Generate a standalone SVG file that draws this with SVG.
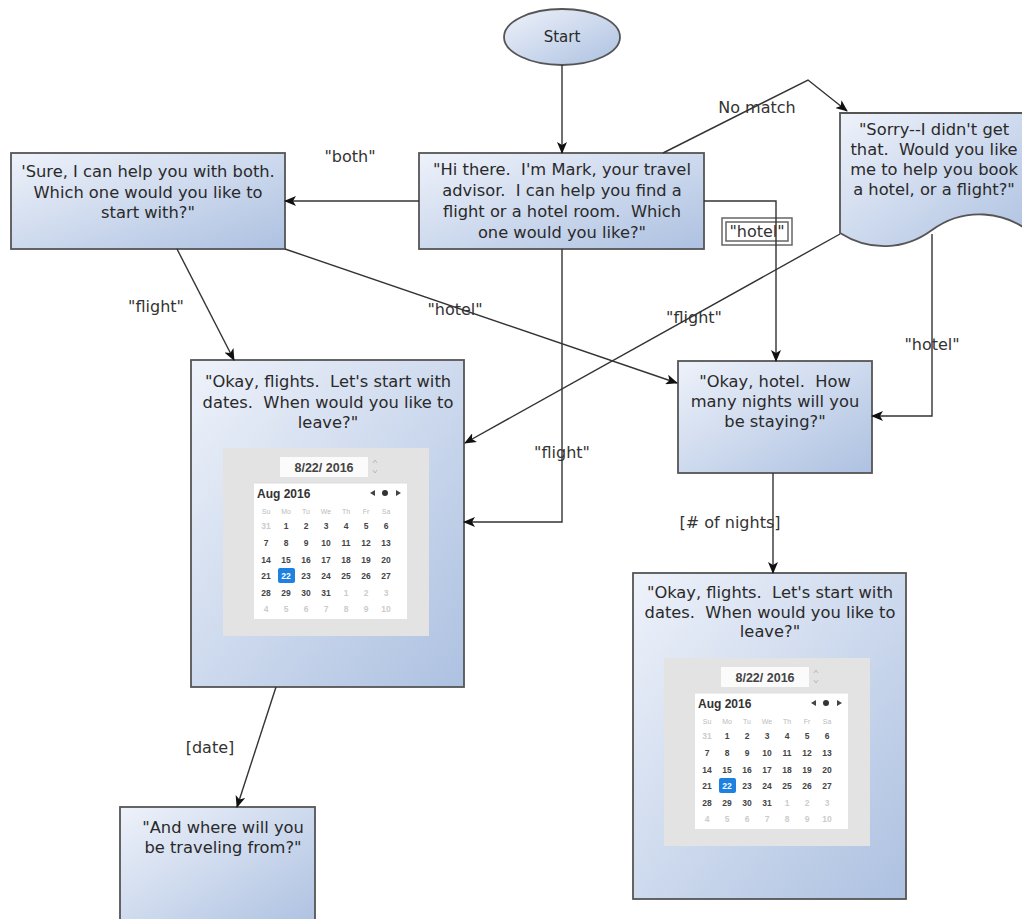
<svg xmlns="http://www.w3.org/2000/svg" xmlns:xlink="http://www.w3.org/1999/xlink" width="1022" height="919" viewBox="0 0 1022 919">
<style>
.box{stroke:#555;stroke-width:1.8;fill:url(#g)}
.t{font-family:"DejaVu Sans",sans-serif;font-size:16.3px;fill:#2a2a2a;text-anchor:middle;white-space:pre}
.lb{font-family:"DejaVu Sans",sans-serif;font-size:16px;fill:#333;text-anchor:middle}
.c{fill:none;stroke:#333;stroke-width:1.4}
.cn{font-family:"Liberation Sans",sans-serif;font-size:8.5px;font-weight:bold;fill:#444;text-anchor:middle}
.cl{fill:#ccc}
.ch{font-family:"Liberation Sans",sans-serif;font-size:7px;fill:#bbb;text-anchor:middle}
</style>
<defs>
<linearGradient id="g" x1="0" y1="0" x2="1" y2="1">
<stop offset="0" stop-color="#eef2fa"/>
<stop offset="1" stop-color="#adc1e1"/>
</linearGradient>
<marker id="a" markerWidth="12" markerHeight="10" refX="11" refY="5" orient="auto" markerUnits="userSpaceOnUse">
<path d="M0,0 L12,5 L0,10 L3,5 Z" fill="#111"/>
</marker>
<g id="cal">
<rect x="0" y="0" width="206" height="188" fill="#e3e3e3"/>
<rect x="57" y="9" width="88" height="20" fill="#fbfbfb"/>
<text x="101" y="24" font-family="Liberation Sans,sans-serif" font-size="12.5" font-weight="bold" fill="#444" text-anchor="middle">8/22/ 2016</text>
<path d="M150,15 l2,-3 l2,3 M150,22 l2,3 l2,-3" fill="none" stroke="#bbb" stroke-width="1"/>
<rect x="31" y="35" width="153" height="136" fill="#fff"/>
<line x1="31" y1="35" x2="184" y2="35" stroke="#ddd"/>
<text x="34" y="50" font-family="Liberation Sans,sans-serif" font-size="12" font-weight="bold" fill="#333">Aug 2016</text>
<path d="M147,45 l5,-3 v6 Z M178,45 l-5,-3 v6 Z" fill="#444"/>
<circle cx="162" cy="45" r="3" fill="#333"/>
<g class="ch">
<text x="43" y="66">Su</text><text x="63" y="66">Mo</text><text x="83" y="66">Tu</text><text x="103" y="66">We</text><text x="123" y="66">Th</text><text x="143" y="66">Fr</text><text x="163" y="66">Sa</text>
</g>
<rect x="55" y="120" width="17" height="15" rx="2" fill="#1e80e0"/>
<g class="cn">
<text x="43" y="81" class="cl">31</text><text x="63" y="81">1</text><text x="83" y="81">2</text><text x="103" y="81">3</text><text x="123" y="81">4</text><text x="143" y="81">5</text><text x="163" y="81">6</text>
<text x="43" y="98">7</text><text x="63" y="98">8</text><text x="83" y="98">9</text><text x="103" y="98">10</text><text x="123" y="98">11</text><text x="143" y="98">12</text><text x="163" y="98">13</text>
<text x="43" y="115">14</text><text x="63" y="115">15</text><text x="83" y="115">16</text><text x="103" y="115">17</text><text x="123" y="115">18</text><text x="143" y="115">19</text><text x="163" y="115">20</text>
<text x="43" y="131">21</text><text x="63" y="131" fill="#fff">22</text><text x="83" y="131">23</text><text x="103" y="131">24</text><text x="123" y="131">25</text><text x="143" y="131">26</text><text x="163" y="131">27</text>
<text x="43" y="148">28</text><text x="63" y="148">29</text><text x="83" y="148">30</text><text x="103" y="148">31</text><text x="123" y="148" class="cl">1</text><text x="143" y="148" class="cl">2</text><text x="163" y="148" class="cl">3</text>
<text x="43" y="164" class="cl">4</text><text x="63" y="164" class="cl">5</text><text x="83" y="164" class="cl">6</text><text x="103" y="164" class="cl">7</text><text x="123" y="164" class="cl">8</text><text x="143" y="164" class="cl">9</text><text x="163" y="164" class="cl">10</text>
</g>
</g>
</defs>
<rect width="1022" height="919" fill="#fff"/>

<g id="start">
<ellipse cx="562" cy="37" rx="58" ry="28" class="box"/>
<text x="562" y="42" class="t" style="font-size:15px">Start</text>
</g>

<g id="hi">
<rect x="419" y="153" width="285" height="96" class="box"/>
<text class="t"><tspan x="562" y="175">"Hi there.  I'm Mark, your travel</tspan><tspan x="562" y="196">advisor.  I can help you find a</tspan><tspan x="562" y="217">flight or a hotel room.  Which</tspan><tspan x="562" y="238">one would you like?"</tspan></text>
</g>

<g id="sure">
<rect x="11" y="153" width="274" height="96" class="box"/>
<text class="t"><tspan x="148" y="177">'Sure, I can help you with both.</tspan><tspan x="148" y="198">Which one would you like to</tspan><tspan x="148" y="218">start with?"</tspan></text>
</g>

<g id="sorry">
<path d="M840,113 H1030 V232 C1005,212 965,206 932,230 C905,250 870,252 840,233 Z" class="box"/>
<text class="t"><tspan x="934" y="135">"Sorry--I didn't get</tspan><tspan x="934" y="155">that.  Would you like</tspan><tspan x="934" y="175">me to help you book</tspan><tspan x="934" y="195">a hotel, or a flight?"</tspan></text>
</g>

<g id="flights1">
<rect x="191" y="360" width="273" height="327" class="box"/>
<text class="t"><tspan x="328" y="387">"Okay, flights.  Let's start with</tspan><tspan x="328" y="408">dates.  When would you like to</tspan><tspan x="328" y="428">leave?"</tspan></text>
<use xlink:href="#cal" x="223" y="448"/>
</g>

<g id="hotel">
<rect x="678" y="361" width="194" height="112" class="box"/>
<text class="t"><tspan x="775" y="387">"Okay, hotel.  How</tspan><tspan x="775" y="407">many nights will you</tspan><tspan x="775" y="427">be staying?"</tspan></text>
</g>

<g id="flights2">
<rect x="633" y="573" width="273" height="326" class="box"/>
<text class="t"><tspan x="770" y="598">"Okay, flights.  Let's start with</tspan><tspan x="770" y="618">dates.  When would you like to</tspan><tspan x="770" y="637">leave?"</tspan></text>
<use xlink:href="#cal" x="664" y="658"/>
</g>

<g id="where">
<rect x="120" y="807" width="195" height="120" class="box"/>
<text class="t"><tspan x="223" y="833">"And where will you</tspan><tspan x="223" y="853">be traveling from?"</tspan></text>
</g>

<g id="connectors">
<line x1="562" y1="65" x2="562" y2="153" class="c" marker-end="url(#a)"/>
<line x1="419" y1="201" x2="285" y2="201" class="c" marker-end="url(#a)"/>
<polyline points="663,153 808,80 847,111" class="c" marker-end="url(#a)"/>
<line x1="177" y1="249" x2="234" y2="360" class="c" marker-end="url(#a)"/>
<line x1="285" y1="249" x2="677" y2="383" class="c" marker-end="url(#a)"/>
<line x1="840" y1="234" x2="465" y2="443" class="c" marker-end="url(#a)"/>
<polyline points="562,249 562,522 464,522" class="c" marker-end="url(#a)"/>
<polyline points="932,234 932,416 872,416" class="c" marker-end="url(#a)"/>
<line x1="773" y1="473" x2="773" y2="573" class="c" marker-end="url(#a)"/>
<line x1="276" y1="687" x2="237" y2="807" class="c" marker-end="url(#a)"/>
<rect x="722" y="218" width="70" height="27" fill="#fff" stroke="#666" stroke-width="1.5"/>
<rect x="726" y="222" width="62" height="19" fill="#fff" stroke="#666" stroke-width="1.5"/>
<text x="757" y="237" class="lb">"hotel"</text>
<polyline points="704,201 776,201 776,361" class="c" marker-end="url(#a)"/>
<text x="350" y="162" class="lb">"both"</text>
<text x="156" y="312" class="lb">"flight"</text>
<text x="455" y="315" class="lb">"hotel"</text>
<text x="694" y="323" class="lb">"flight"</text>
<text x="932" y="350" class="lb">"hotel"</text>
<text x="562" y="458" class="lb">"flight"</text>
<text x="757" y="113" class="lb">No match</text>
<text x="730" y="528" class="lb">[# of nights]</text>
<text x="210" y="753" class="lb">[date]</text>
</g>
</svg>
